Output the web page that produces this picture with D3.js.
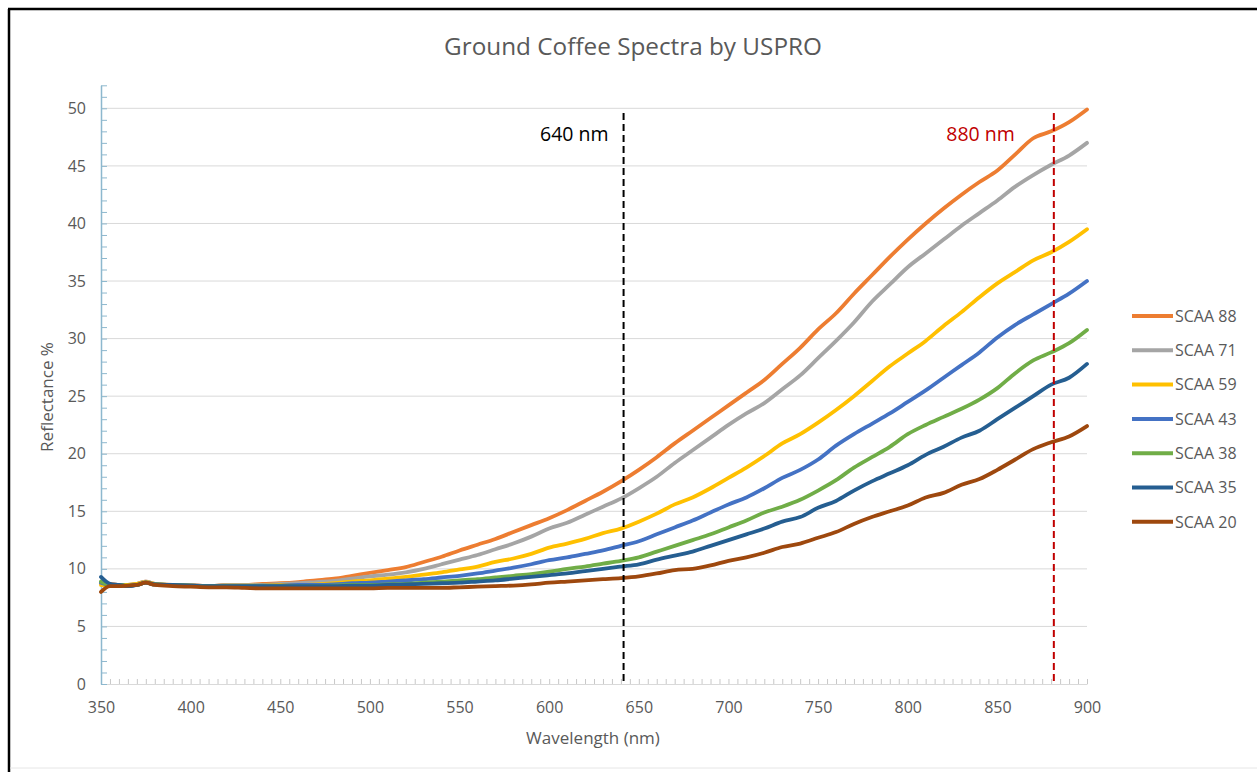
<!DOCTYPE html>
<html>
<head>
<meta charset="utf-8">
<script src="https://cdn.jsdelivr.net/npm/d3@7/dist/d3.min.js"></script>
<style>
  html, body { margin: 0; padding: 0; background: #fff; }
  svg { display: block; font-family: "Open Sans", "Noto Sans", sans-serif; }
</style>
</head>
<body>
<svg id="chart" width="1257" height="772"></svg>
<script>
// ---------- DATA ----------
const wavelengths = [350,355,360,365,370,375,380,390,400,410,420,430,440,450,460,470,480,490,500,510,520,530,540,550,560,570,580,590,600,610,620,630,640,650,660,670,680,690,700,710,720,730,740,750,760,770,780,790,800,810,820,830,840,850,860,870,880,890,900];

const seriesNames = ["SCAA 88","SCAA 71","SCAA 59","SCAA 43","SCAA 38","SCAA 35","SCAA 20"];
const seriesColors = ["#ED7D31","#A5A5A5","#FFC000","#4472C4","#70AD47","#255E91","#9E480E"];

const scaa88 = [8.7,8.7,8.6,8.6,8.7,8.9,8.7,8.6,8.6,8.5,8.6,8.6,8.7,8.75,8.85,9.0,9.15,9.4,9.65,9.9,10.15,10.6,11.05,11.6,12.1,12.6,13.2,13.8,14.4,15.1,15.9,16.7,17.6,18.6,19.7,20.9,22.0,23.1,24.2,25.3,26.4,27.8,29.2,30.8,32.2,33.9,35.5,37.1,38.6,40.0,41.3,42.5,43.6,44.6,46.0,47.4,48.0,48.8,49.9];
const scaa71 = [8.8,8.6,8.6,8.6,8.7,8.9,8.7,8.6,8.6,8.5,8.6,8.6,8.6,8.7,8.75,8.85,8.95,9.15,9.35,9.5,9.7,10.0,10.4,10.8,11.2,11.7,12.2,12.8,13.5,14.0,14.7,15.4,16.1,17.0,18.0,19.2,20.3,21.4,22.5,23.5,24.4,25.6,26.8,28.3,29.8,31.4,33.2,34.7,36.2,37.4,38.6,39.8,40.9,42.0,43.2,44.2,45.1,45.9,47.0];
const scaa59 = [8.6,8.6,8.6,8.6,8.7,8.85,8.7,8.6,8.55,8.5,8.55,8.55,8.55,8.6,8.6,8.65,8.75,8.9,9.0,9.15,9.3,9.5,9.7,9.95,10.2,10.6,10.9,11.3,11.85,12.2,12.6,13.1,13.5,14.1,14.8,15.6,16.2,17.0,17.9,18.8,19.8,20.9,21.7,22.7,23.8,25.0,26.3,27.6,28.7,29.8,31.1,32.3,33.6,34.8,35.8,36.8,37.5,38.4,39.5];
const scaa43 = [8.8,8.6,8.6,8.5,8.6,8.8,8.65,8.6,8.55,8.5,8.5,8.5,8.55,8.55,8.6,8.6,8.65,8.75,8.8,8.9,9.0,9.1,9.25,9.4,9.6,9.85,10.1,10.4,10.75,11.0,11.3,11.6,12.0,12.4,13.0,13.6,14.2,14.9,15.6,16.2,17.0,17.9,18.6,19.5,20.7,21.7,22.6,23.5,24.5,25.5,26.6,27.7,28.8,30.1,31.2,32.1,33.0,33.9,35.0];
const scaa38 = [8.9,8.6,8.6,8.55,8.6,8.8,8.65,8.6,8.55,8.5,8.5,8.5,8.5,8.5,8.5,8.5,8.55,8.6,8.6,8.65,8.7,8.8,8.9,9.0,9.1,9.25,9.4,9.55,9.75,10.0,10.2,10.45,10.7,11.0,11.5,12.0,12.5,13.0,13.6,14.2,14.9,15.4,16.0,16.8,17.7,18.8,19.7,20.6,21.7,22.5,23.2,23.9,24.7,25.7,27.0,28.1,28.8,29.6,30.75];
const scaa35 = [9.3,8.7,8.6,8.5,8.6,8.8,8.65,8.6,8.55,8.5,8.5,8.5,8.5,8.5,8.5,8.5,8.5,8.55,8.55,8.6,8.65,8.7,8.75,8.8,8.9,9.0,9.15,9.3,9.45,9.6,9.8,10.0,10.2,10.4,10.8,11.15,11.5,12.0,12.5,13.0,13.5,14.1,14.5,15.3,15.9,16.8,17.6,18.3,19.0,19.9,20.6,21.4,22.0,23.0,24.0,25.0,26.0,26.6,27.8];
const scaa20 = [8.0,8.5,8.5,8.55,8.6,8.8,8.6,8.5,8.45,8.4,8.4,8.35,8.3,8.3,8.3,8.3,8.3,8.3,8.3,8.35,8.35,8.35,8.35,8.4,8.45,8.5,8.55,8.65,8.8,8.9,9.0,9.1,9.2,9.35,9.6,9.9,10.0,10.3,10.7,11.0,11.4,11.9,12.2,12.7,13.2,13.9,14.5,15.0,15.5,16.2,16.6,17.3,17.8,18.6,19.5,20.4,21.0,21.5,22.4];

const seriesValues = [scaa88, scaa71, scaa59, scaa43, scaa38, scaa35, scaa20];

const xTickLabels = [350,400,450,500,550,600,650,700,750,800,850,900];
const yTickLabels = [0,5,10,15,20,25,30,35,40,45,50];

const markerValues = [641.5, 881.5];
const markerLabels = ["640 nm", "880 nm"];
const markerColors = ["#000000", "#C00000"];

const titleText = "Ground Coffee Spectra by USPRO";
const xTitle = "Wavelength (nm)";
const yTitle = "Reflectance %";

// ---------- LAYOUT ----------
const svg = d3.select("#chart");
const W = 1257, H = 772;
const x = d3.scaleLinear().domain([350, 900]).range([101, 1087]);
const y = d3.scaleLinear().domain([0, 52]).range([684, 85.3]);
const textColor = "#595959";

// outer frame
svg.append("line").attr("x1", 9).attr("x2", 9).attr("y1", 9).attr("y2", H)
  .attr("stroke", "#000").attr("stroke-width", 2.5);
svg.append("line").attr("x1", 8).attr("x2", W).attr("y1", 9).attr("y2", 9)
  .attr("stroke", "#000").attr("stroke-width", 2.5);
svg.append("line").attr("x1", 10).attr("x2", W).attr("y1", 768).attr("y2", 768)
  .attr("stroke", "#e6e6e6").attr("stroke-width", 1);

// title
svg.append("text").attr("x", 633).attr("y", 55).attr("text-anchor", "middle")
  .attr("font-size", 24.3).attr("fill", textColor).text(titleText);

// gridlines
svg.append("g").selectAll("line").data(yTickLabels.filter(d => d > 0)).join("line")
  .attr("x1", x(350)).attr("x2", x(900))
  .attr("y1", d => y(d)).attr("y2", d => y(d))
  .attr("stroke", "#D9D9D9").attr("stroke-width", 1);

// x axis
const xAxis = d3.axisBottom(x)
  .tickValues(d3.range(350, 901, 5))
  .tickSize(-5).tickSizeOuter(0)
  .tickFormat(d => xTickLabels.includes(d) ? d : "");
const gx = svg.append("g").attr("transform", `translate(0,${y(0)})`).call(xAxis);
gx.select(".domain").attr("stroke", "#D9D9D9").attr("stroke-width", 1.2);
gx.selectAll(".tick line").attr("stroke", "#C8C8C8");
gx.selectAll(".tick text").attr("y", 29).attr("dy", 0)
  .attr("font-size", 16).attr("fill", textColor)
  .attr("font-family", "'Open Sans', sans-serif");

// y axis
const yAxis = d3.axisLeft(y)
  .tickValues(d3.range(0, 53, 1))
  .tickSize(-6).tickSizeOuter(0).tickPadding(15)
  .tickFormat(d => yTickLabels.includes(d) ? d : "");
const gy = svg.append("g").attr("transform", `translate(${x(350)},0)`).call(yAxis);
gy.select(".domain").attr("stroke", "#8DB8CE").attr("stroke-width", 1.5);
gy.selectAll(".tick line").attr("stroke", "#8DB8CE");
gy.selectAll(".tick text").attr("font-size", 16).attr("fill", textColor)
  .attr("font-family", "'Open Sans', sans-serif");

// axis titles
svg.append("text").attr("x", 593).attr("y", 744).attr("text-anchor", "middle")
  .attr("font-size", 17).attr("fill", textColor).text(xTitle);
svg.append("text").attr("transform", "translate(53,397) rotate(-90)")
  .attr("text-anchor", "middle").attr("font-size", 17).attr("fill", textColor).text(yTitle);

// series lines
const line = d3.line()
  .x((d, i) => x(wavelengths[i]))
  .y(d => y(d))
  .curve(d3.curveMonotoneX);

svg.append("g").selectAll("path").data(seriesValues).join("path")
  .attr("d", d => line(d))
  .attr("fill", "none")
  .attr("stroke", (d, i) => seriesColors[i])
  .attr("stroke-width", 3.8)
  .attr("stroke-linejoin", "round")
  .attr("stroke-linecap", "round");

// marker lines
const labelOffsets = [15, 39];
markerValues.forEach((m, i) => {
  svg.append("line")
    .attr("x1", x(m)).attr("x2", x(m))
    .attr("y1", 113).attr("y2", y(0))
    .attr("stroke", markerColors[i]).attr("stroke-width", 2)
    .attr("stroke-dasharray", "7,4");
  svg.append("text")
    .attr("x", x(m) - labelOffsets[i]).attr("y", 141)
    .attr("text-anchor", "end").attr("font-size", 19.5)
    .attr("fill", markerColors[i]).text(markerLabels[i]);
});

// legend
const legend = svg.append("g").selectAll("g").data(seriesNames).join("g")
  .attr("transform", (d, i) => `translate(1132,${316 + i * 34.3})`);
legend.append("line").attr("x1", 0).attr("x2", 41).attr("y1", 0).attr("y2", 0)
  .attr("stroke", (d, i) => seriesColors[i]).attr("stroke-width", 4);
legend.append("text").attr("x", 43).attr("y", 0).attr("dy", "0.36em")
  .attr("font-size", 16).attr("fill", textColor).text(d => d);
</script>
</body>
</html>
